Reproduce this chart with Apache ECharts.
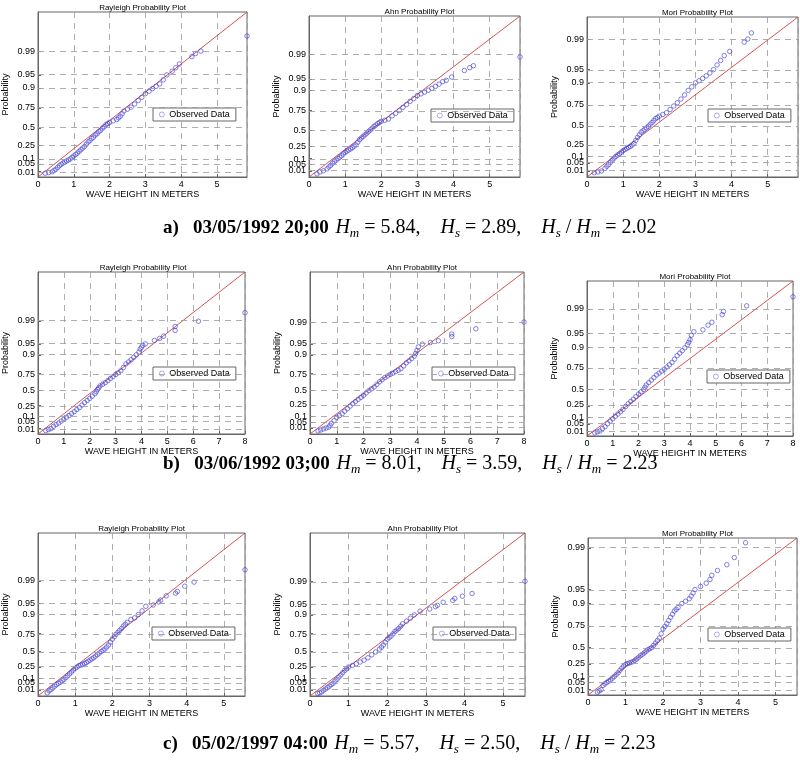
<!DOCTYPE html>
<html>
<head>
<meta charset="utf-8">
<script src="https://cdn.jsdelivr.net/npm/echarts@6/dist/echarts.min.js"></script>
<style>
html,body{margin:0;padding:0;background:#fff;}
#main{width:800px;height:760px;}
</style>
</head>
<body>
<div id="main"></div>
<script>
// probability tick labels (same on every panel)
var probTicks = [0.01, 0.05, 0.1, 0.25, 0.5, 0.75, 0.9, 0.95, 0.99];
var probLabels = ['0.01', '0.05', '0.1', '0.25', '0.5', '0.75', '0.9', '0.95', '0.99'];

// x axis ends (row a, b, c)
var xMaxA = 5.84, xMaxB = 8, xMaxC = 5.57;

// where each probability tick sits on the panel's height (0 bottom, 1 top)
var fracRayA = [0.032, 0.077, 0.109, 0.190, 0.296, 0.417, 0.536, 0.619, 0.763];
var fracAhnA = [0.035, 0.081, 0.114, 0.191, 0.293, 0.413, 0.539, 0.610, 0.761];
var fracMorA = [0.0375, 0.0875, 0.129, 0.200, 0.317, 0.450, 0.588, 0.671, 0.8625];
var fracRayB = [0.033, 0.076, 0.109, 0.175, 0.267, 0.372, 0.489, 0.556, 0.696];
var fracAhnB = [0.035, 0.074, 0.109, 0.176, 0.268, 0.373, 0.486, 0.555, 0.691];
var fracMorB = [0.032, 0.079, 0.118, 0.195, 0.300, 0.438, 0.575, 0.661, 0.820];
var fracRayC = [0.035, 0.078, 0.108, 0.178, 0.273, 0.384, 0.500, 0.567, 0.706];
var fracAhnC = [0.035, 0.078, 0.108, 0.178, 0.272, 0.384, 0.498, 0.565, 0.704];
var fracMorC = [0.034, 0.080, 0.118, 0.195, 0.302, 0.440, 0.583, 0.672, 0.937];

// observed data: [wave height (m), probability]
var rayA = [[0.2,0.005],[0.3,0.007],[0.4,0.01],[0.45,0.015],[0.5,0.02],[0.55,0.03],[0.6,0.04],[0.65,0.05],[0.7,0.06],[0.75,0.07],[0.8,0.08],[0.85,0.09],[0.9,0.1],[0.95,0.115],[1.0,0.13],[1.05,0.145],[1.1,0.16],[1.15,0.18],[1.2,0.2],[1.25,0.22],[1.3,0.24],[1.35,0.27],[1.4,0.3],[1.45,0.32],[1.5,0.35],[1.55,0.37],[1.6,0.4],[1.65,0.42],[1.7,0.45],[1.75,0.47],[1.8,0.5],[1.85,0.52],[1.9,0.55],[1.95,0.565],[2.0,0.58],[2.1,0.6],[2.2,0.62],[2.25,0.64],[2.3,0.66],[2.35,0.69],[2.4,0.72],[2.5,0.74],[2.6,0.76],[2.7,0.79],[2.8,0.82],[2.9,0.845],[3.0,0.87],[3.1,0.885],[3.2,0.9],[3.3,0.91],[3.4,0.92],[3.5,0.935],[3.6,0.95],[3.75,0.96],[3.85,0.968],[3.95,0.975],[4.3,0.985],[4.4,0.988],[4.55,0.99],[5.84,0.997]];
var ahnA = [[0.22,0.003],[0.3,0.008],[0.4,0.012],[0.5,0.02],[0.55,0.03],[0.6,0.04],[0.65,0.055],[0.7,0.07],[0.75,0.085],[0.8,0.1],[0.85,0.115],[0.9,0.13],[0.95,0.15],[1.0,0.17],[1.05,0.185],[1.1,0.2],[1.15,0.215],[1.2,0.23],[1.25,0.25],[1.3,0.27],[1.35,0.31],[1.4,0.35],[1.45,0.375],[1.5,0.4],[1.55,0.425],[1.6,0.45],[1.65,0.475],[1.7,0.5],[1.75,0.525],[1.8,0.55],[1.85,0.57],[1.9,0.59],[1.95,0.605],[2.0,0.62],[2.1,0.635],[2.2,0.65],[2.3,0.69],[2.4,0.72],[2.5,0.75],[2.6,0.78],[2.7,0.805],[2.8,0.83],[2.9,0.85],[3.0,0.87],[3.1,0.88],[3.2,0.89],[3.3,0.9],[3.4,0.91],[3.5,0.92],[3.6,0.93],[3.7,0.94],[3.8,0.945],[3.95,0.955],[4.3,0.97],[4.45,0.975],[4.55,0.978],[5.84,0.988]];
var morA = [[0.2,0.005],[0.3,0.007],[0.4,0.01],[0.5,0.02],[0.55,0.03],[0.6,0.04],[0.65,0.055],[0.7,0.07],[0.75,0.085],[0.8,0.1],[0.85,0.115],[0.9,0.13],[0.95,0.15],[1.0,0.17],[1.05,0.185],[1.1,0.2],[1.15,0.215],[1.2,0.23],[1.25,0.25],[1.3,0.27],[1.35,0.31],[1.4,0.35],[1.45,0.385],[1.5,0.42],[1.55,0.44],[1.6,0.46],[1.65,0.48],[1.7,0.5],[1.75,0.525],[1.8,0.55],[1.85,0.575],[1.9,0.6],[1.95,0.615],[2.0,0.63],[2.1,0.65],[2.2,0.67],[2.3,0.705],[2.4,0.74],[2.5,0.77],[2.6,0.8],[2.7,0.83],[2.8,0.86],[2.9,0.88],[3.0,0.9],[3.1,0.91],[3.2,0.92],[3.3,0.93],[3.4,0.94],[3.5,0.95],[3.6,0.96],[3.7,0.968],[3.8,0.975],[3.95,0.98],[4.35,0.988],[4.45,0.99],[4.55,0.993],[5.84,0.999]];
var rayB = [[0.3,0.004],[0.4,0.007],[0.5,0.01],[0.6,0.02],[0.7,0.03],[0.8,0.04],[0.9,0.055],[1.0,0.07],[1.1,0.09],[1.2,0.11],[1.3,0.135],[1.4,0.16],[1.5,0.19],[1.6,0.22],[1.7,0.26],[1.8,0.3],[1.9,0.335],[2.0,0.37],[2.1,0.41],[2.2,0.45],[2.25,0.485],[2.3,0.52],[2.35,0.55],[2.4,0.58],[2.5,0.605],[2.6,0.63],[2.7,0.66],[2.8,0.69],[2.9,0.715],[3.0,0.74],[3.1,0.76],[3.2,0.78],[3.3,0.81],[3.4,0.84],[3.5,0.855],[3.6,0.87],[3.7,0.885],[3.8,0.9],[3.9,0.915],[3.95,0.93],[4.0,0.938],[4.05,0.945],[4.15,0.95],[4.5,0.96],[4.7,0.965],[4.85,0.97],[5.3,0.98],[5.3,0.985],[6.2,0.99],[8.0,0.995]];
var ahnB = [[0.3,0.003],[0.4,0.005],[0.5,0.008],[0.6,0.011],[0.7,0.015],[0.75,0.025],[0.8,0.04],[0.9,0.06],[1.0,0.09],[1.1,0.11],[1.2,0.13],[1.3,0.165],[1.4,0.2],[1.5,0.24],[1.6,0.28],[1.7,0.315],[1.8,0.35],[1.9,0.385],[2.0,0.42],[2.1,0.46],[2.2,0.5],[2.3,0.53],[2.4,0.56],[2.5,0.6],[2.6,0.64],[2.7,0.67],[2.8,0.7],[2.9,0.72],[3.0,0.74],[3.1,0.755],[3.2,0.77],[3.3,0.785],[3.4,0.8],[3.5,0.825],[3.6,0.85],[3.7,0.865],[3.8,0.88],[3.9,0.895],[3.95,0.91],[4.0,0.925],[4.05,0.94],[4.2,0.95],[4.5,0.955],[4.8,0.96],[5.3,0.97],[5.3,0.975],[6.2,0.983],[8.0,0.99]];
var morB = [[0.3,0.004],[0.4,0.007],[0.5,0.01],[0.6,0.02],[0.7,0.03],[0.8,0.05],[0.9,0.07],[1.0,0.09],[1.1,0.115],[1.2,0.14],[1.3,0.17],[1.4,0.2],[1.5,0.24],[1.6,0.28],[1.7,0.315],[1.8,0.35],[1.9,0.39],[2.0,0.43],[2.1,0.465],[2.2,0.5],[2.25,0.53],[2.3,0.56],[2.4,0.59],[2.5,0.62],[2.6,0.65],[2.7,0.68],[2.8,0.7],[2.9,0.72],[3.0,0.74],[3.1,0.76],[3.2,0.78],[3.3,0.8],[3.4,0.825],[3.5,0.85],[3.6,0.865],[3.7,0.88],[3.8,0.895],[3.9,0.91],[3.95,0.92],[4.0,0.93],[4.05,0.945],[4.15,0.955],[4.5,0.96],[4.7,0.97],[4.85,0.975],[5.25,0.985],[5.3,0.988],[6.2,0.992],[8.0,0.996]];
var rayC = [[0.25,0.003],[0.3,0.008],[0.35,0.013],[0.4,0.02],[0.45,0.03],[0.5,0.04],[0.55,0.05],[0.6,0.06],[0.65,0.075],[0.7,0.09],[0.75,0.11],[0.8,0.13],[0.85,0.155],[0.9,0.18],[0.95,0.205],[1.0,0.23],[1.05,0.25],[1.1,0.27],[1.15,0.28],[1.2,0.29],[1.25,0.305],[1.3,0.32],[1.35,0.34],[1.4,0.36],[1.45,0.38],[1.5,0.4],[1.55,0.425],[1.6,0.45],[1.65,0.475],[1.7,0.5],[1.75,0.52],[1.8,0.54],[1.85,0.57],[1.9,0.6],[1.95,0.64],[2.0,0.68],[2.05,0.71],[2.1,0.74],[2.15,0.76],[2.2,0.78],[2.25,0.8],[2.3,0.82],[2.35,0.835],[2.4,0.85],[2.5,0.87],[2.6,0.88],[2.7,0.9],[2.8,0.92],[2.9,0.94],[3.1,0.945],[3.25,0.955],[3.3,0.96],[3.45,0.97],[3.7,0.975],[3.75,0.978],[3.95,0.985],[4.2,0.989],[5.57,0.996]];
var ahnC = [[0.2,0.002],[0.25,0.003],[0.3,0.005],[0.35,0.01],[0.4,0.015],[0.45,0.022],[0.5,0.03],[0.55,0.04],[0.6,0.05],[0.65,0.07],[0.7,0.09],[0.75,0.115],[0.8,0.14],[0.85,0.17],[0.9,0.2],[0.95,0.225],[1.0,0.25],[1.1,0.275],[1.2,0.3],[1.3,0.33],[1.4,0.36],[1.5,0.4],[1.6,0.45],[1.7,0.495],[1.8,0.54],[1.85,0.57],[1.9,0.6],[1.95,0.64],[2.0,0.68],[2.05,0.7],[2.1,0.72],[2.15,0.745],[2.2,0.77],[2.25,0.785],[2.3,0.8],[2.35,0.82],[2.4,0.84],[2.5,0.86],[2.6,0.88],[2.7,0.9],[2.85,0.92],[3.1,0.93],[3.25,0.94],[3.3,0.945],[3.45,0.955],[3.7,0.96],[3.75,0.965],[3.95,0.97],[4.2,0.975],[5.57,0.99]];
var morC = [[0.25,0.003],[0.3,0.006],[0.35,0.01],[0.4,0.03],[0.45,0.04],[0.5,0.05],[0.55,0.06],[0.6,0.07],[0.65,0.085],[0.7,0.1],[0.75,0.12],[0.8,0.14],[0.85,0.17],[0.9,0.2],[0.95,0.225],[1.0,0.25],[1.05,0.26],[1.1,0.27],[1.15,0.28],[1.2,0.29],[1.25,0.31],[1.3,0.33],[1.35,0.355],[1.4,0.38],[1.45,0.4],[1.5,0.42],[1.55,0.445],[1.6,0.47],[1.65,0.485],[1.7,0.5],[1.75,0.53],[1.8,0.56],[1.85,0.59],[1.9,0.62],[1.95,0.67],[2.0,0.72],[2.05,0.745],[2.1,0.77],[2.15,0.795],[2.2,0.82],[2.25,0.84],[2.3,0.86],[2.35,0.87],[2.4,0.88],[2.5,0.9],[2.6,0.91],[2.7,0.92],[2.75,0.93],[2.8,0.94],[2.85,0.95],[3.0,0.955],[3.15,0.96],[3.25,0.965],[3.3,0.97],[3.45,0.975],[3.7,0.98],[3.9,0.985],[4.2,0.992]];

var panels = [
  {title:'Rayleigh Probability Plot', data:rayA, frac:fracRayA, xmax:xMaxA, box:[28,12,219,165], leg:[153,108]},
  {title:'Ahn Probability Plot',      data:ahnA, frac:fracAhnA, xmax:xMaxA, box:[309,16,211,161], leg:[431,109]},
  {title:'Mori Probability Plot',     data:morA, frac:fracMorA, xmax:xMaxA, box:[587,17,211,160], leg:[708,109]},
  {title:'Rayleigh Probability Plot', data:rayB, frac:fracRayB, xmax:xMaxB, box:[31,272,214,162], leg:[153,367]},
  {title:'Ahn Probability Plot',      data:ahnB, frac:fracAhnB, xmax:xMaxB, box:[310,272,214,162], leg:[432,367]},
  {title:'Mori Probability Plot',     data:morB, frac:fracMorB, xmax:xMaxB, box:[587,281,206,155], leg:[707,370]},
  {title:'Rayleigh Probability Plot', data:rayC, frac:fracRayC, xmax:xMaxC, box:[28,533,217,163], leg:[152,627]},
  {title:'Ahn Probability Plot',      data:ahnC, frac:fracAhnC, xmax:xMaxC, box:[310,533,215,163], leg:[433,627]},
  {title:'Mori Probability Plot',     data:morC, frac:fracMorC, xmax:xMaxC, box:[588,538,209,157], leg:[708,628]}
];

// probability -> panel height, interpolated between the tick marks in sqrt(-ln(1-p)) space
function zOf(p){ return Math.sqrt(-Math.log(1 - p)); }
function toFrac(p, frac){
  var zs = [0].concat(probTicks.map(zOf));
  var fs = [0].concat(frac);
  var z = zOf(p);
  for (var i = 1; i < zs.length; i++) {
    if (z <= zs[i]) return fs[i-1] + (z - zs[i-1]) / (zs[i] - zs[i-1]) * (fs[i] - fs[i-1]);
  }
  var n = zs.length - 1;
  return fs[n] + (z - zs[n]) / (zs[n] - zs[n-1]) * (fs[n] - fs[n-1]);
}

var grid = [], xAxis = [], yAxis = [], series = [], legend = [], title = [];
var font = 'Arial, "Liberation Sans", sans-serif';

panels.forEach(function(pn, i){
  var b = pn.box;
  grid.push({left:b[0], top:b[1], width:b[2], height:b[3], show:true, borderColor:'#666', borderWidth:1, backgroundColor:'#fff'});
  title.push({text:pn.title, left:b[0] + b[2]/2, top:b[1] - 13, textAlign:'center',
    textStyle:{fontSize:8, fontWeight:'normal', color:'#000', fontFamily:font}});
  xAxis.push({gridIndex:i, type:'value', min:0, max:pn.xmax, interval:1,
    name:'WAVE HEIGHT IN METERS', nameLocation:'middle', nameGap:13,
    nameTextStyle:{fontSize:9, color:'#000', fontFamily:font},
    axisLine:{lineStyle:{color:'#666'}},
    axisTick:{inside:true, length:3, lineStyle:{color:'#666'}},
    axisLabel:{fontSize:9, color:'#000', margin:3, fontFamily:font, showMaxLabel:pn.xmax === 8},
    splitLine:{show:true, lineStyle:{color:'#999', type:[6,5], width:0.8}}});
  yAxis.push({gridIndex:i, type:'value', min:0, max:1,
    name:'Probability', nameLocation:'middle', nameGap:28, nameRotate:90,
    nameTextStyle:{fontSize:9, color:'#000', fontFamily:font},
    axisLine:{lineStyle:{color:'#666'}},
    axisTick:{inside:true, length:3, customValues:pn.frac, lineStyle:{color:'#666'}},
    axisLabel:{show:false},
    splitLine:{show:false}});
  // probability grid lines carry the tick labels so none of the close ones get hidden
  series.push({type:'line', xAxisIndex:i, yAxisIndex:i, data:[[0,0],[pn.xmax,1]],
    symbol:'none', silent:true, lineStyle:{color:'#d04040', width:0.9}, z:3,
    markLine:{silent:true, symbol:'none',
      lineStyle:{color:'#999', type:[6,5], width:0.8},
      data:pn.frac.map(function(f, k){
        return {yAxis:f, label:{show:true, position:'start', distance:3, formatter:probLabels[k],
          fontSize:9, color:'#000', fontFamily:font}};
      })}});
  series.push({type:'scatter', name:'Observed Data', xAxisIndex:i, yAxisIndex:i,
    data:pn.data.map(function(d){ return [d[0], toFrac(d[1], pn.frac)]; }),
    symbol:'circle', symbolSize:4.5, z:4,
    itemStyle:{color:'rgba(0,0,0,0)', borderColor:'#3c3cd8', borderWidth:0.8}});
  legend.push({data:['Observed Data'], left:pn.leg[0], top:pn.leg[1], orient:'vertical',
    backgroundColor:'#fff', borderColor:'#666', borderWidth:1, borderRadius:0,
    padding:[2,6,2,6], itemWidth:5, itemHeight:5, itemGap:0, selectedMode:false,
    itemStyle:{borderWidth:0.7, color:'rgba(0,0,0,0)', borderColor:'#6a6ae0'},
    textStyle:{fontSize:9, color:'#000', fontFamily:font}});
});

var serif = '"Liberation Serif", "Times New Roman", serif';
var rich = {
  b:{fontFamily:serif, fontWeight:'bold', fontSize:19, color:'#000'},
  i:{fontFamily:serif, fontStyle:'italic', fontSize:20, color:'#000'},
  s:{fontFamily:serif, fontStyle:'italic', fontSize:13, color:'#000', padding:[12,0,0,0]},
  n:{fontFamily:serif, fontSize:20, color:'#000'}
};
function caption(lbl, stamp, hm, hs, r){
  return '{b|' + lbl + '   ' + stamp + '}  {i|H}{s|m}{n| = ' + hm + ',    }{i|H}{s|s}{n| = ' + hs +
    ',    }{i|H}{s|s}{n| / }{i|H}{s|m}{n| = ' + r + '}';
}
var captions = [
  {y:218, t:caption('a)', '03/05/1992 20;00', '5.84', '2.89', '2.02')},
  {y:454, t:caption('b)', '03/06/1992 03;00', '8.01', '3.59', '2.23')},
  {y:734, t:caption('c)', '05/02/1997 04:00', '5.57', '2.50', '2.23')}
];
var graphic = captions.map(function(c){
  return {type:'text', left:163, top:c.y, z:10, style:{text:c.t, rich:rich}};
});

var chart = echarts.init(document.getElementById('main'));
chart.setOption({
  animation:false,
  backgroundColor:'#fff',
  title:title, grid:grid, xAxis:xAxis, yAxis:yAxis, series:series, legend:legend, graphic:graphic
});
</script>
</body>
</html>
